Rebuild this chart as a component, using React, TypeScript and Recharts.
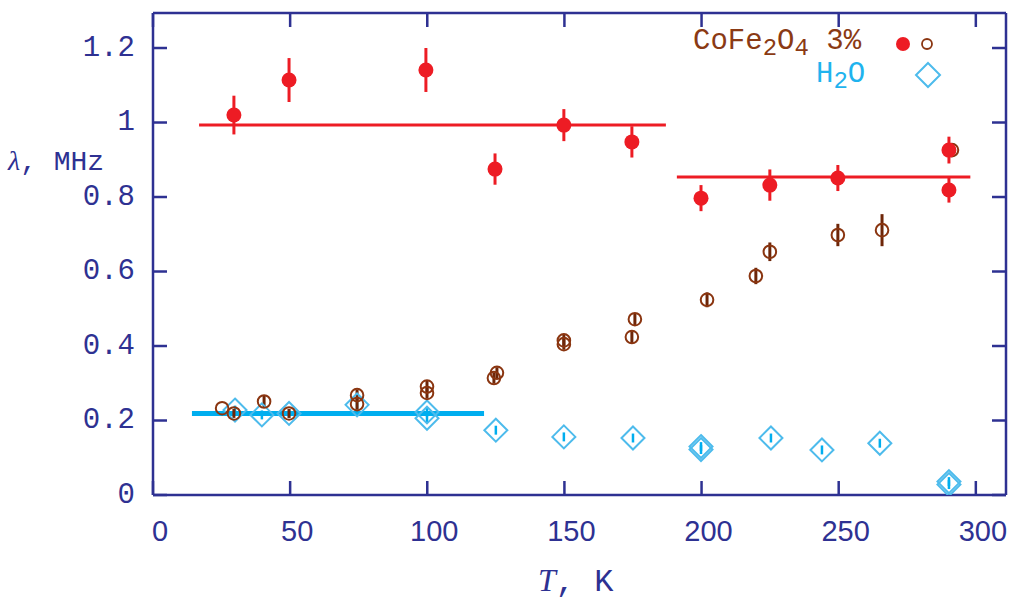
import React from 'react';
import { ScatterChart, Scatter, XAxis, YAxis, ErrorBar, ReferenceLine } from 'recharts';

// ---- data ----
const xTicks = [0, 50, 100, 150, 200, 250, 300];
const yTicks = [0, 0.2, 0.4, 0.6, 0.8, 1, 1.2];

const redT = [29.5, 49.6, 99.5, 124.7, 149.8, 174.6, 199.8, 224.9, 249.7, 290.2, 290.2];
const redLambda = [1.02, 1.114, 1.141, 0.875, 0.993, 0.948, 0.797, 0.832, 0.851, 0.926, 0.819];
const redErr = [0.052, 0.059, 0.059, 0.042, 0.043, 0.042, 0.035, 0.042, 0.035, 0.036, 0.034];

const brownT = [25.2, 29.5, 40.5, 49.6, 74.4, 74.4, 99.9, 99.9, 125.4, 124.3, 149.8, 149.8, 175.7, 174.6, 202, 219.8, 224.9, 249.7, 265.8, 291.3];
const brownLambda = [0.233, 0.219, 0.251, 0.219, 0.268, 0.244, 0.291, 0.274, 0.328, 0.314, 0.415, 0.405, 0.472, 0.424, 0.524, 0.588, 0.653, 0.698, 0.711, 0.926];
const brownErr = [0, 0.012, 0.015, 0.012, 0.015, 0.015, 0.015, 0.015, 0.015, 0.015, 0.015, 0.015, 0.016, 0.016, 0.02, 0.022, 0.025, 0.03, 0.043, 0.01];

const waterT = [29.9, 39.7, 49.6, 74.4, 99.9, 99.9, 125, 149.8, 175, 199.8, 199.8, 225.3, 243.9, 265, 290.2, 290.2];
const waterLambda = [0.228, 0.215, 0.219, 0.242, 0.223, 0.206, 0.174, 0.156, 0.153, 0.13, 0.122, 0.153, 0.121, 0.139, 0.036, 0.028];
const waterErr = [0.012, 0.012, 0.012, 0.012, 0.012, 0.012, 0.012, 0.012, 0.012, 0.012, 0.012, 0.012, 0.012, 0.012, 0.012, 0.012];

const fitStart = [16.8, 191, 14.2];
const fitEnd = [187, 298, 120.7];
const fitValue = [0.993, 0.854, 0.219];
const fitColor = ['#ed1c24', '#ed1c24', '#00aeef'];
const fitWidth = [3, 3, 5];

const X_DOMAIN: [number, number] = [0, 311];
const Y_DOMAIN: [number, number] = [0, 1.294];

const build = (t: number[], l: number[], e: number[]) => t.map((x, i) => ({ x, y: l[i], err: e[i] }));
const redData = build(redT, redLambda, redErr);
const brownData = build(brownT, brownLambda, brownErr);
const waterData = build(waterT, waterLambda, waterErr);

// ---- styles ----
const AXIS = '#2e3192';
const RED = '#ed1c24';
const BROWN = '#8a3510';
const BROWN_BAR = '#6e2608';
const CYAN = '#00aeef';
const DIAMOND = '#4dbbec';
const TICK_LEN = 14;

const BottomTick = (p: any) => (
  <g>
    <line x1={p.x} y1={p.y} x2={p.x} y2={p.y - TICK_LEN} stroke={AXIS} strokeWidth={2.5} />
    <text x={p.x + 7} y={p.y + 36} textAnchor="middle" dominantBaseline="central" fill={AXIS}
      fontFamily="Liberation Sans, sans-serif" fontSize={29}>{String(p.payload.value)}</text>
  </g>
);
const TopTick = (p: any) => (
  <line x1={p.x} y1={p.y} x2={p.x} y2={p.y + TICK_LEN} stroke={AXIS} strokeWidth={2.5} />
);
const LeftTick = (p: any) => (
  <g>
    <line x1={p.x} y1={p.y} x2={p.x + TICK_LEN} y2={p.y} stroke={AXIS} strokeWidth={2.5} />
    <text x={p.x - 18} y={p.y} textAnchor="end" dominantBaseline="central" fill={AXIS}
      fontFamily="Liberation Mono, monospace" fontSize={29}>{String(p.payload.value)}</text>
  </g>
);
const RightTick = (p: any) => (
  <line x1={p.x} y1={p.y} x2={p.x - TICK_LEN} y2={p.y} stroke={AXIS} strokeWidth={2.5} />
);

const RedDot = (p: any) => <circle cx={p.cx} cy={p.cy} r={7.5} fill={RED} />;
const BrownCircle = (p: any) => <circle cx={p.cx} cy={p.cy} r={6.3} fill="none" stroke={BROWN} strokeWidth={2} />;
const Diamond = (p: any) => {
  const s = 11.5;
  return (
    <path d={`M${p.cx},${p.cy - s} L${p.cx + s},${p.cy} L${p.cx},${p.cy + s} L${p.cx - s},${p.cy} Z`}
      fill="none" stroke={DIAMOND} strokeWidth={2} />
  );
};

const subStyle = { fontSize: 24, verticalAlign: '-6px' } as const;

export default function App() {
  return (
    <div style={{ position: 'absolute', left: 0, top: 0, width: 1017, height: 600, background: '#fff' }}>
      <ScatterChart width={1017} height={600} margin={{ top: 0, right: 0, bottom: 0, left: 0 }}>
        <XAxis xAxisId="b" orientation="bottom" dataKey="x" type="number" domain={X_DOMAIN} ticks={xTicks}
          allowDataOverflow height={105} tickSize={0} tickMargin={0} tickLine={false}
          axisLine={{ stroke: AXIS, strokeWidth: 2.5 }} tick={<BottomTick />} interval={0} />
        <XAxis xAxisId="t" orientation="top" dataKey="x" type="number" domain={X_DOMAIN} ticks={xTicks}
          allowDataOverflow height={13} tickSize={0} tickMargin={0} tickLine={false}
          axisLine={{ stroke: AXIS, strokeWidth: 2.5 }} tick={<TopTick />} interval={0} />
        <YAxis yAxisId="l" orientation="left" dataKey="y" type="number" domain={Y_DOMAIN} ticks={yTicks}
          allowDataOverflow width={153} tickSize={0} tickMargin={0} tickLine={false}
          axisLine={{ stroke: AXIS, strokeWidth: 2.5 }} tick={<LeftTick />} interval={0} />
        <YAxis yAxisId="r" orientation="right" dataKey="y" type="number" domain={Y_DOMAIN} ticks={yTicks}
          allowDataOverflow width={11} tickSize={0} tickMargin={0} tickLine={false}
          axisLine={{ stroke: AXIS, strokeWidth: 2.5 }} tick={<RightTick />} interval={0} />

        {fitStart.map((s, i) => (
          i === 2 ? (
            <ReferenceLine key={`f${i}`} xAxisId="b" yAxisId="l"
              segment={[{ x: s, y: fitValue[i] }, { x: fitEnd[i], y: fitValue[i] }]}
              stroke={fitColor[i]} strokeWidth={fitWidth[i]} ifOverflow="visible" />
          ) : null
        ))}

        <Scatter name="H2O" data={waterData} xAxisId="b" yAxisId="l" shape={<Diamond />} isAnimationActive={false}>
          <ErrorBar dataKey="err" direction="y" width={0} stroke={CYAN} strokeWidth={2.5} />
        </Scatter>
        <Scatter name="CoFe2O4 open" data={brownData} xAxisId="b" yAxisId="l" shape={<BrownCircle />} isAnimationActive={false}>
          <ErrorBar dataKey="err" direction="y" width={0} stroke={BROWN_BAR} strokeWidth={3} />
        </Scatter>
        <Scatter name="CoFe2O4 filled" data={redData} xAxisId="b" yAxisId="l" shape={<RedDot />} isAnimationActive={false}>
          <ErrorBar dataKey="err" direction="y" width={0} stroke={RED} strokeWidth={3} />
        </Scatter>

        {fitStart.map((s, i) => (
          i !== 2 ? (
            <ReferenceLine key={`g${i}`} xAxisId="b" yAxisId="l"
              segment={[{ x: s, y: fitValue[i] }, { x: fitEnd[i], y: fitValue[i] }]}
              stroke={fitColor[i]} strokeWidth={fitWidth[i]} ifOverflow="visible" />
          ) : null
        ))}
      </ScatterChart>

      {/* axis titles */}
      <div style={{ position: 'absolute', left: 8, top: 145, color: AXIS, fontSize: 28, whiteSpace: 'nowrap', lineHeight: '32px' }}>
        <span style={{ fontFamily: 'Liberation Serif, serif', fontStyle: 'italic' }}>λ</span>
        <span style={{ fontFamily: 'Liberation Mono, monospace' }}>, MHz</span>
      </div>
      <div style={{ position: 'absolute', left: 538, top: 562, color: AXIS, fontSize: 32, whiteSpace: 'nowrap', lineHeight: '36px' }}>
        <span style={{ fontFamily: 'Liberation Serif, serif', fontStyle: 'italic' }}>T</span>
        <span style={{ fontFamily: 'Liberation Mono, monospace' }}>, K</span>
      </div>

      {/* legend */}
      <div style={{ position: 'absolute', left: 693, top: 26, color: '#8a3a14', fontFamily: 'Liberation Mono, monospace', fontSize: 29, whiteSpace: 'nowrap', lineHeight: '32px' }}>
        CoFe<sub style={subStyle}>2</sub>O<sub style={subStyle}>4</sub> 3%
      </div>
      <div style={{ position: 'absolute', left: 816, top: 59, color: '#1fb3ee', fontFamily: 'Liberation Mono, monospace', fontSize: 29, whiteSpace: 'nowrap', lineHeight: '32px' }}>
        H<sub style={subStyle}>2</sub>O
      </div>
      <svg style={{ position: 'absolute', left: 0, top: 0, pointerEvents: 'none' }} width={1017} height={120}>
        <circle cx={903} cy={44} r={7} fill={RED} />
        <circle cx={927} cy={44} r={5} fill="none" stroke={BROWN} strokeWidth={1.8} />
        <path d="M928,63 L940,75 L928,87 L916,75 Z" fill="none" stroke={DIAMOND} strokeWidth={2} />
      </svg>
    </div>
  );
}
